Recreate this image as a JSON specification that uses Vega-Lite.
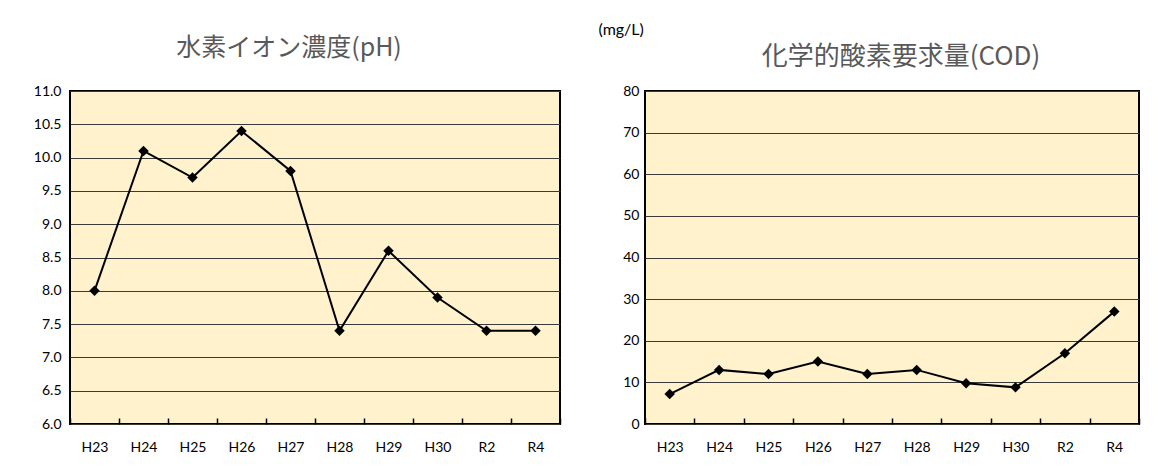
{
  "$schema": "https://vega.github.io/schema/vega-lite/v6.json",
  "background": "white",
  "padding": {"left": 32, "top": 20, "right": 5, "bottom": 5},
  "bounds": "flush",
  "spacing": 85,
  "datasets": {
    "ph": [
      {"year": "H23", "value": 8.0},
      {"year": "H24", "value": 10.1},
      {"year": "H25", "value": 9.7},
      {"year": "H26", "value": 10.4},
      {"year": "H27", "value": 9.8},
      {"year": "H28", "value": 7.4},
      {"year": "H29", "value": 8.6},
      {"year": "H30", "value": 7.9},
      {"year": "R2", "value": 7.4},
      {"year": "R4", "value": 7.4}
    ],
    "cod": [
      {"year": "H23", "value": 7.2},
      {"year": "H24", "value": 13},
      {"year": "H25", "value": 12},
      {"year": "H26", "value": 15},
      {"year": "H27", "value": 12},
      {"year": "H28", "value": 13},
      {"year": "H29", "value": 9.8},
      {"year": "H30", "value": 8.8},
      {"year": "R2", "value": 17},
      {"year": "R4", "value": 27}
    ]
  },
  "config": {
    "view": {"stroke": "black", "strokeWidth": 2, "fill": "#FFF2CC"},
    "axis": {
      "labelFont": "Lato",
      "labelFontSize": 14,
      "labelColor": "#000000",
      "domain": false,
      "gridColor": "#3a3a3a",
      "gridWidth": 1,
      "gridOpacity": 1
    },
    "title": {
      "font": "Noto Sans CJK JP",
      "fontSize": 25,
      "fontWeight": "normal",
      "color": "#595959",
      "anchor": "middle"
    }
  },
  "hconcat": [
    {
      "width": 490,
      "height": 333,
      "title": {"text": "水素イオン濃度(pH)", "dx": -26, "offset": 23},
      "data": {"name": "ph"},
      "encoding": {
        "x": {
          "field": "year",
          "type": "nominal",
          "sort": null,
          "scale": {"type": "band", "paddingInner": 0, "paddingOuter": 0},
          "axis": {
            "title": null,
            "labelAngle": 0,
            "tickBand": "extent",
            "tickSize": -6,
            "tickWidth": 1.5,
            "tickColor": "#000000",
            "labelPadding": 22,
            "grid": false,
            "zindex": 1
          }
        },
        "y": {
          "field": "value",
          "type": "quantitative",
          "scale": {"domain": [6, 11], "nice": false, "zero": false},
          "axis": {
            "title": null,
            "values": [6, 6.5, 7, 7.5, 8, 8.5, 9, 9.5, 10, 10.5, 11],
            "format": ".1f",
            "ticks": false,
            "labelPadding": 9,
            "grid": true
          }
        }
      },
      "layer": [
        {"mark": {"type": "line", "color": "black", "strokeWidth": 2}},
        {"mark": {"type": "point", "shape": "diamond", "filled": true, "color": "black", "size": 110, "opacity": 1}}
      ]
    },
    {
      "width": 494,
      "height": 333,
      "title": {"text": "化学的酸素要求量(COD)", "dx": 9, "offset": -49, "fontSize": 26},
      "data": {"name": "cod"},
      "encoding": {
        "x": {
          "field": "year",
          "type": "nominal",
          "sort": null,
          "scale": {"type": "band", "paddingInner": 0, "paddingOuter": 0},
          "axis": {
            "title": null,
            "labelAngle": 0,
            "tickBand": "extent",
            "tickSize": -6,
            "tickWidth": 1.5,
            "tickColor": "#000000",
            "labelPadding": 22,
            "grid": false,
            "zindex": 1
          }
        },
        "y": {
          "field": "value",
          "type": "quantitative",
          "scale": {"domain": [0, 80], "nice": false},
          "axis": {
            "title": "(mg/L)",
            "titleAngle": 0,
            "titleX": -47,
            "titleY": -62,
            "titleAlign": "left",
            "titleBaseline": "middle",
            "titleFont": "Lato",
            "titleFontSize": 16,
            "titleFontWeight": "normal",
            "titleColor": "#000000",
            "values": [0, 10, 20, 30, 40, 50, 60, 70, 80],
            "ticks": false,
            "labelPadding": 6,
            "grid": true
          }
        }
      },
      "layer": [
        {"mark": {"type": "line", "color": "black", "strokeWidth": 2}},
        {"mark": {"type": "point", "shape": "diamond", "filled": true, "color": "black", "size": 110, "opacity": 1}}
      ]
    }
  ]
}
